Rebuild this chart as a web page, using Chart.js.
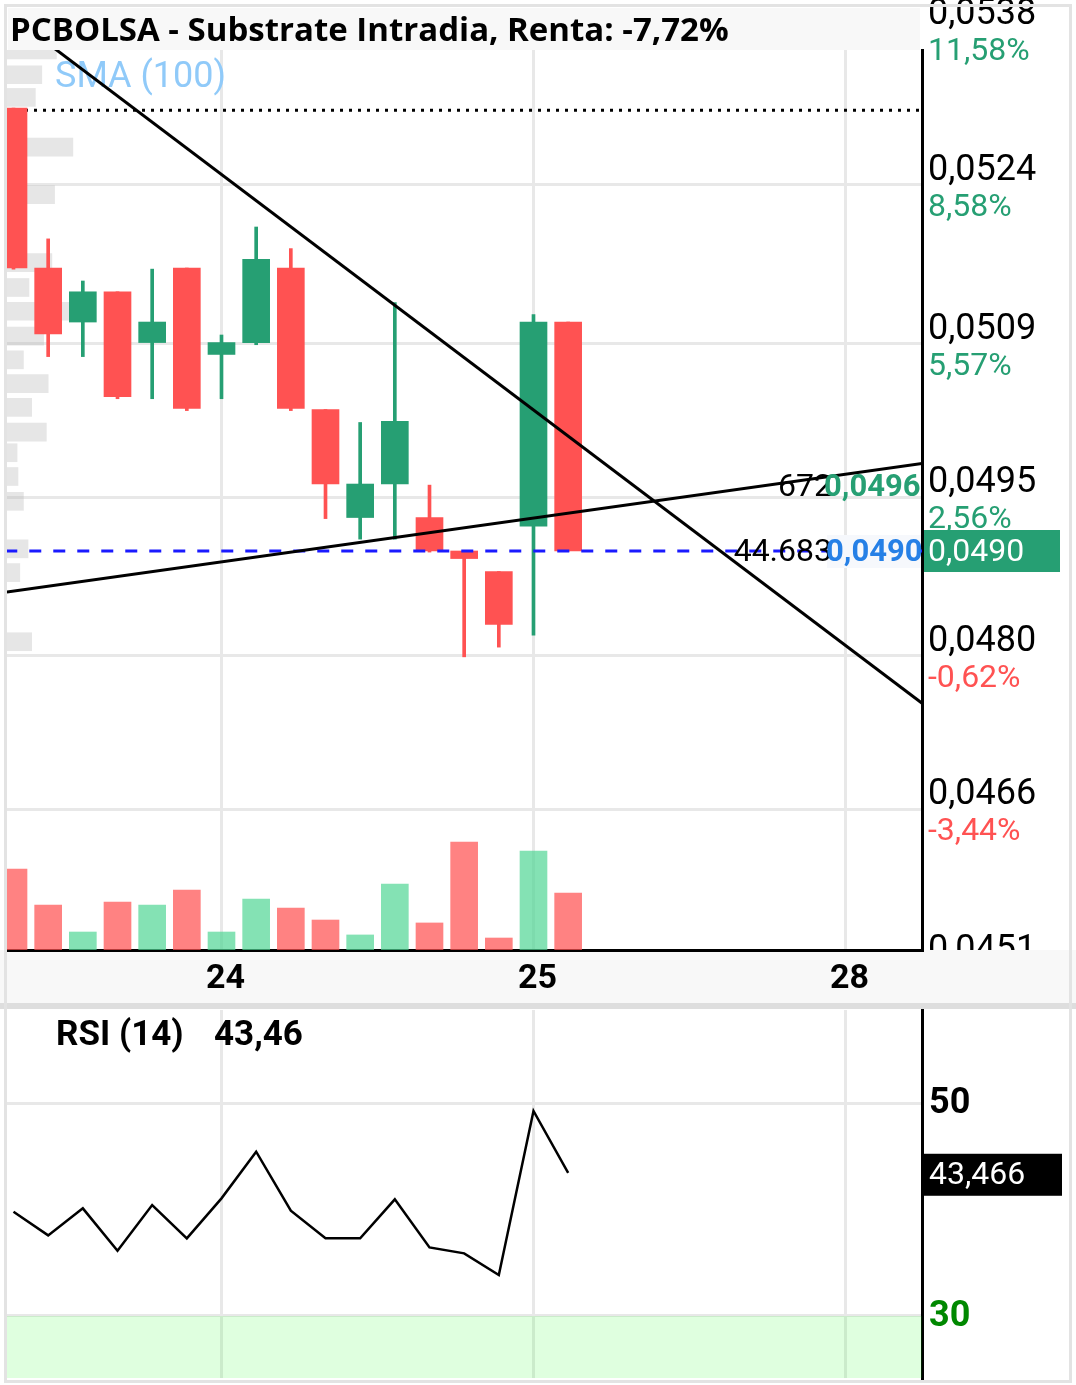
<!DOCTYPE html>
<html lang="es">
<head>
  <meta charset="UTF-8" />
  <title>PCBOLSA - Substrate Intradia</title>
  <script src="https://cdn.jsdelivr.net/npm/chart.js"></script>
  <style>
    body { margin: 0; background: #fff; width: 1076px; height: 1385px; position: relative; overflow: hidden; }
    #mainBox { position: absolute; left: 0; top: 0; width: 1076px; height: 1003px; }
    #rsiBox { position: absolute; left: 0; top: 1003px; width: 1076px; height: 382px; }
    #title {
      position: absolute; left: 8px; top: 8px; width: 912px; height: 42px;
      background: #f8f8f8; color: #000; box-sizing: border-box; padding-left: 2px;
      font: 700 33px 'Open Sans', sans-serif; line-height: 42px; white-space: nowrap;
    }
    #frame {
      position: absolute; left: 4px; top: 4px; width: 1068px; height: 1379px;
      border: 3px solid #e3e3e3; box-sizing: border-box; pointer-events: none;
    }
  </style>
</head>
<body>
  <div id="mainBox"><canvas id="mainChart"></canvas></div>
  <div id="rsiBox"><canvas id="rsiChart"></canvas></div>
  <div id="title">PCBOLSA - Substrate Intradia, Renta: -7,72%</div>
  <div id="frame"></div>

  <script>
    // velas (índice de vela, 9 por sesión)
    const candleIdx = [0, 1, 2, 3, 4, 5, 6, 7, 8, 9, 10, 11, 12, 13, 14, 15, 16];
    const opens  = [0.05310, 0.05162, 0.05112, 0.05140, 0.05093, 0.05162, 0.05082, 0.05093, 0.05162, 0.05031, 0.04931, 0.04962, 0.04931, 0.04900, 0.04881, 0.04923, 0.05112];
    const highs  = [0.05310, 0.05189, 0.05150, 0.05140, 0.05161, 0.05162, 0.05100, 0.05200, 0.05180, 0.05031, 0.05019, 0.05130, 0.04961, 0.04900, 0.04881, 0.05119, 0.05112];
    const lows   = [0.05161, 0.05080, 0.05080, 0.05041, 0.05041, 0.05030, 0.05041, 0.05091, 0.05030, 0.04930, 0.04911, 0.04911, 0.04899, 0.04802, 0.04811, 0.04822, 0.04900];
    const closes = [0.05162, 0.05101, 0.05140, 0.05043, 0.05112, 0.05032, 0.05093, 0.05170, 0.05032, 0.04962, 0.04962, 0.05020, 0.04900, 0.04893, 0.04832, 0.05112, 0.04900];
    const volumes = [63500, 35300, 14100, 37600, 35300, 47000, 14100, 40000, 32900, 23500, 11800, 51700, 21200, 84700, 9400, 77600, 44683];
    const rsiValues = [39.80, 37.58, 40.12, 36.13, 40.43, 37.30, 41.06, 45.45, 39.90, 37.30, 37.30, 40.97, 36.45, 35.89, 33.85, 49.28, 43.466];

    // perfil de volumen (precio, volumen)
    const profilePrices = [0.05364, 0.05341, 0.05320, 0.05274, 0.05230, 0.05167, 0.05144, 0.05122, 0.05099, 0.05077, 0.05055, 0.05033, 0.05010, 0.04991, 0.04969, 0.04946, 0.04902, 0.04880, 0.04816];
    const profileVolumes = [54, 38, 31, 72, 52, 49, 24, 69, 40, 18, 45, 27, 43, 11, 12, 18, 23, 14, 27];

    // ejes
    const dayIdx = [6, 15, 24];
    const dayLabels = ['24', '25', '28'];
    const priceTicks = [0.053833, 0.052389, 0.050917, 0.0495, 0.048028, 0.046611, 0.045167];
    const priceTickLabels = ['0,0538', '0,0524', '0,0509', '0,0495', '0,0480', '0,0466', '0,0451'];
    const pctLabels = ['11,58%', '8,58%', '5,57%', '2,56%', '-0,62%', '-3,44%', ''];
    const rsiTicks = [30, 50];
    const rsiTitle = 'RSI (14)';
    const rsiTitleValue = '43,46';

    // líneas dibujadas
    const trendDownX = [0, 26.21];
    const trendDownY = [0.05394, 0.04759];
    const trendUpX = [-0.19, 26.21];
    const trendUpY = [0.04862, 0.04981];
    const maxPrice = 0.05308;
    const lastPrice = 0.0490;
    const askPrice = 0.0496;
    const askSize = '672';
    const bidSize = '44.683';

    const GREEN = '#269f73';
    const RED = '#ff5252';
    const xMin = -0.1875, xMax = 26.207;

    const up = candleIdx.map(i => closes[i] >= opens[i]);
    const fmt = v => v.toFixed(4).replace('.', ',');

    const mainDecor = {
      id: 'mainDecor',
      beforeDraw(chart) {
        const { ctx, chartArea: a } = chart;
        const y = chart.scales.y;
        ctx.save();
        ctx.fillStyle = '#fff';
        ctx.fillRect(0, 0, chart.width, chart.height);
        ctx.textAlign = 'left';
        ctx.textBaseline = 'alphabetic';
        priceTicks.forEach((v, i) => {
          const py = y.getPixelForValue(v);
          ctx.font = '36px Roboto';
          ctx.fillStyle = '#000';
          ctx.fillText(priceTickLabels[i], a.right + 6, py - 5);
          if (pctLabels[i]) {
            ctx.font = '32px Roboto';
            ctx.fillStyle = pctLabels[i].startsWith('-') ? RED : GREEN;
            ctx.fillText(pctLabels[i], a.right + 6, py + 31);
          }
        });
        // banda del eje de tiempo
        ctx.fillStyle = '#f8f8f8';
        ctx.fillRect(0, a.bottom, chart.width, chart.height - a.bottom);
        ctx.restore();
      },
      beforeDatasetsDraw(chart) {
        const ctx = chart.ctx;
        ctx.save();
        ctx.font = '36px Roboto';
        ctx.fillStyle = '#90caf9';
        ctx.textBaseline = 'alphabetic';
        ctx.fillText('SMA (100)', 55, 87);
        ctx.restore();
      },
      afterDraw(chart) {
        const { ctx, chartArea: a } = chart;
        const y = chart.scales.y;
        const pa = y.getPixelForValue(askPrice);
        const pb = y.getPixelForValue(lastPrice);
        ctx.save();
        ctx.textBaseline = 'middle';
        // oferta
        ctx.textAlign = 'right';
        ctx.font = '32px Roboto';
        ctx.fillStyle = '#000';
        ctx.fillText(askSize, 832, pa + 2);
        ctx.textAlign = 'left';
        ctx.font = 'bold 31px Roboto';
        ctx.fillStyle = GREEN;
        ctx.fillText(fmt(askPrice), 824, pa + 2);
        // demanda
        ctx.fillStyle = '#f6f8fc';
        ctx.fillRect(827, pb - 16, a.right - 828, 33);
        ctx.textAlign = 'right';
        ctx.font = '32px Roboto';
        ctx.fillStyle = '#000';
        ctx.fillText(bidSize, 832, pb + 2);
        ctx.textAlign = 'left';
        ctx.font = 'bold 31px Roboto';
        ctx.fillStyle = '#2680e6';
        ctx.fillText(fmt(lastPrice), 826, pb + 2);
        // último precio en el eje
        ctx.fillStyle = GREEN;
        ctx.fillRect(a.right + 2, pb - 21, 136, 42);
        ctx.fillStyle = '#fff';
        ctx.font = '32px Roboto';
        ctx.fillText(fmt(lastPrice), a.right + 6, pb + 2);
        ctx.restore();
      }
    };

    new Chart(document.getElementById('mainChart'), {
      type: 'bar',
      data: {
        datasets: [
          {
            type: 'line', order: 1,
            data: trendDownX.map((x, i) => ({ x, y: trendDownY[i] })),
            borderColor: '#000', borderWidth: 3, pointRadius: 0
          },
          {
            type: 'line', order: 2,
            data: trendUpX.map((x, i) => ({ x, y: trendUpY[i] })),
            borderColor: '#000', borderWidth: 3, pointRadius: 0
          },
          {
            type: 'line', order: 3,
            data: [{ x: xMin - 0.05, y: lastPrice }, { x: xMax, y: lastPrice }],
            borderColor: '#1a1aff', borderWidth: 3, borderDash: [12, 12], pointRadius: 0
          },
          {
            order: 4, grouped: false, barThickness: 27,
            data: candleIdx.map(i => ({ x: i, y: [opens[i], closes[i]] })),
            backgroundColor: up.map(u => u ? GREEN : RED)
          },
          {
            order: 5, grouped: false, barThickness: 3,
            data: candleIdx.map(i => ({ x: i, y: [lows[i], highs[i]] })),
            backgroundColor: up.map(u => u ? GREEN : RED)
          },
          {
            type: 'line', order: 8,
            data: [{ x: xMin, y: maxPrice }, { x: xMax, y: maxPrice }],
            borderColor: '#000', borderWidth: 3, borderDash: [3, 6], pointRadius: 0
          },
          {
            order: 9, grouped: false, barThickness: 27, yAxisID: 'yv',
            data: candleIdx.map(i => ({ x: i, y: volumes[i] })),
            backgroundColor: up.map(u => u ? 'rgba(80,214,148,0.7)' : 'rgba(255,82,82,0.72)')
          },
          {
            order: 10, indexAxis: 'y', grouped: false, barThickness: 18,
            xAxisID: 'xvp', yAxisID: 'y',
            data: profilePrices.map((p, i) => ({ x: profileVolumes[i], y: p })),
            backgroundColor: 'rgba(180,180,180,0.33)'
          }
        ]
      },
      options: {
        responsive: true,
        maintainAspectRatio: false,
        animation: false,
        events: [],
        layout: { padding: { left: 7, right: 154, top: 50, bottom: 0 } },
        plugins: { legend: { display: false }, tooltip: { enabled: false } },
        scales: {
          x: {
            type: 'linear', position: 'bottom', min: xMin, max: xMax, offset: false,
            afterBuildTicks: s => { s.ticks = dayIdx.map(v => ({ value: v })); },
            afterFit: s => { s.height = 53; },
            grid: { color: '#e8e8e8', lineWidth: 3, drawTicks: false, offset: false },
            border: { color: '#000', width: 3 },
            ticks: {
              color: '#000', padding: 9, labelOffset: 4, maxRotation: 0, autoSkip: false,
              font: { family: 'Roboto', size: 34, weight: 'bold' },
              callback: v => dayLabels[dayIdx.indexOf(v)]
            }
          },
          y: {
            type: 'linear', position: 'right', min: 0.0453056, max: 0.0536389,
            offset: false, beginAtZero: false, grace: 0,
            afterBuildTicks: s => { s.ticks = priceTicks.filter(v => v >= s.min && v <= s.max).map(v => ({ value: v })); },
            afterFit: s => { s.width = 0; },
            grid: { color: '#e8e8e8', lineWidth: 3, drawTicks: false, offset: false },
            border: { color: '#000', width: 3 },
            ticks: { display: false }
          },
          yv: { axis: 'y', type: 'linear', display: false, min: 0, max: 705600, offset: false },
          xvp: { axis: 'x', type: 'linear', position: 'bottom', display: false, min: 0, max: 1000, offset: false }
        }
      },
      plugins: [mainDecor]
    });

    const rsiDecor = {
      id: 'rsiDecor',
      beforeDraw(chart) {
        const ctx = chart.ctx;
        ctx.save();
        ctx.fillStyle = '#fff';
        ctx.fillRect(0, 0, chart.width, chart.height);
        ctx.fillStyle = '#dedede';
        ctx.fillRect(0, 0, chart.width, 6);
        ctx.restore();
      },
      afterDraw(chart) {
        const { ctx, chartArea: a } = chart;
        const y = chart.scales.y;
        const last = rsiValues[rsiValues.length - 1];
        ctx.save();
        ctx.textAlign = 'left';
        ctx.textBaseline = 'middle';
        ctx.font = 'bold 36px Roboto';
        ctx.fillStyle = '#000';
        ctx.fillText('50', a.right + 7, y.getPixelForValue(50) + 1);
        ctx.fillStyle = '#008800';
        ctx.fillText('30', a.right + 7, y.getPixelForValue(30) + 1);
        const py = y.getPixelForValue(last);
        ctx.fillStyle = '#000';
        ctx.fillRect(a.right + 2, py - 19, 138, 42);
        ctx.fillStyle = '#fff';
        ctx.font = '32px Roboto';
        ctx.fillText(last.toFixed(3).replace('.', ','), a.right + 7, py + 3);
        ctx.fillStyle = '#000';
        ctx.font = 'bold 35px Roboto';
        ctx.textBaseline = 'alphabetic';
        ctx.fillText(rsiTitle, 56, 42);
        ctx.fillText(rsiTitleValue, 214, 42);
        ctx.restore();
      }
    };

    new Chart(document.getElementById('rsiChart'), {
      type: 'line',
      data: {
        datasets: [
          {
            order: 1,
            data: candleIdx.map(i => ({ x: i, y: rsiValues[i] })),
            borderColor: '#000', borderWidth: 2.5, pointRadius: 0, tension: 0
          },
          {
            order: 2,
            data: [{ x: xMin - 1, y: 30 }, { x: xMax + 1, y: 30 }],
            borderWidth: 0, pointRadius: 0, fill: 'start',
            backgroundColor: 'rgba(0,255,0,0.125)'
          }
        ]
      },
      options: {
        responsive: true,
        maintainAspectRatio: false,
        animation: false,
        events: [],
        layout: { padding: { left: 7, right: 154, top: 7, bottom: 7 } },
        plugins: { legend: { display: false }, tooltip: { enabled: false } },
        scales: {
          x: {
            type: 'linear', min: xMin, max: xMax,
            afterBuildTicks: s => { s.ticks = dayIdx.map(v => ({ value: v })); },
            afterFit: s => { s.height = 0; },
            grid: { color: '#e8e8e8', lineWidth: 3, drawTicks: false },
            border: { display: false },
            ticks: { display: false }
          },
          y: {
            type: 'linear', position: 'right', min: 24.17, max: 58.77,
            afterBuildTicks: s => { s.ticks = rsiTicks.map(v => ({ value: v })); },
            afterFit: s => { s.width = 0; },
            grid: { color: '#e8e8e8', lineWidth: 3, drawTicks: false },
            border: { color: '#000', width: 3 },
            ticks: { display: false }
          }
        }
      },
      plugins: [rsiDecor]
    });
  </script>
</body>
</html>
